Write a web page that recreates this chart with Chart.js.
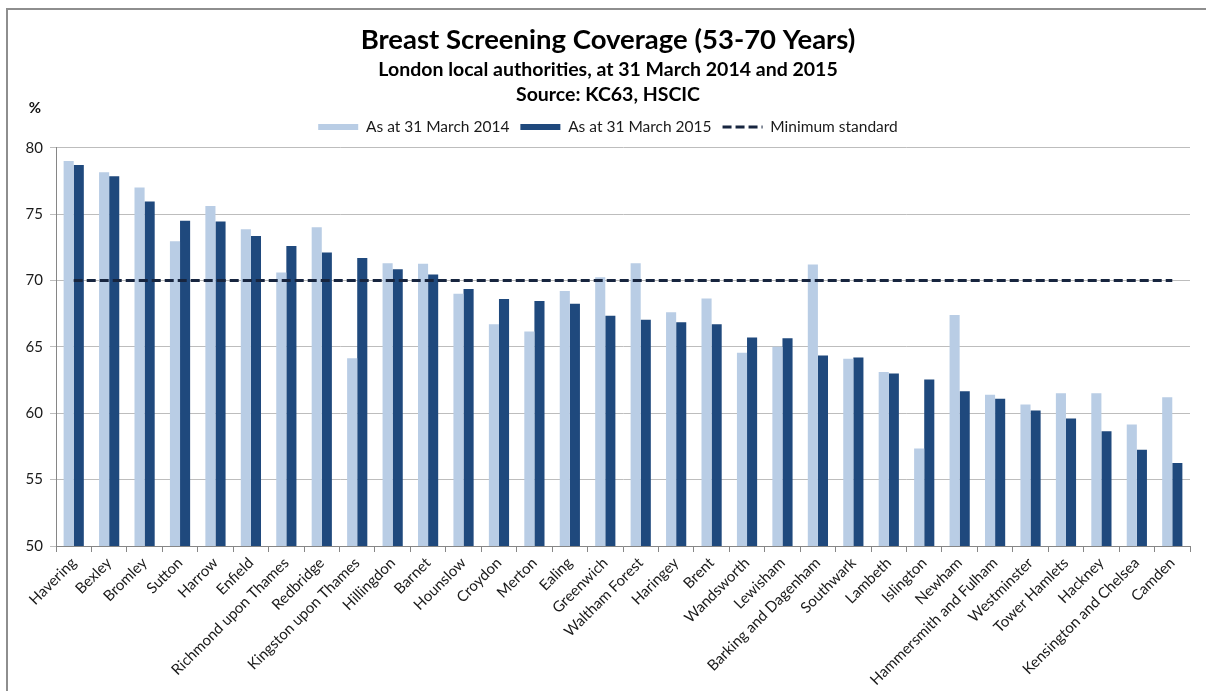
<!DOCTYPE html>
<html>
<head>
<meta charset="utf-8">
<script src="https://cdn.jsdelivr.net/npm/chart.js@4/dist/chart.umd.min.js"></script>
<style>
  html, body { margin: 0; padding: 0; background: #ffffff; }
  #wrap { position: relative; width: 1206px; height: 691px; }
</style>
</head>
<body>
<div id="wrap"><canvas id="c" width="1206" height="691"></canvas></div>
<script>
const categories = ["Havering","Bexley","Bromley","Sutton","Harrow","Enfield","Richmond upon Thames","Redbridge","Kingston upon Thames","Hillingdon","Barnet","Hounslow","Croydon","Merton","Ealing","Greenwich","Waltham Forest","Haringey","Brent","Wandsworth","Lewisham","Barking and Dagenham","Southwark","Lambeth","Islington","Newham","Hammersmith and Fulham","Westminster","Tower Hamlets","Hackney","Kensington and Chelsea","Camden"];
const values2014 = [79.0,78.15,77.0,72.95,75.6,73.85,70.6,74.0,64.15,71.3,71.25,69.0,66.7,66.15,69.2,70.25,71.3,67.6,68.65,64.55,65.0,71.2,64.1,63.1,57.35,67.4,61.4,60.65,61.5,61.5,59.15,61.2];
const values2015 = [78.7,77.85,75.95,74.5,74.45,73.35,72.6,72.1,71.7,70.85,70.45,69.35,68.6,68.45,68.25,67.35,67.05,66.85,66.7,65.7,65.65,64.35,64.2,63.0,62.55,61.65,61.1,60.2,59.6,58.65,57.25,56.25];
const minimumStandard = [70,70,70,70,70,70,70,70,70,70,70,70,70,70,70,70,70,70,70,70,70,70,70,70,70,70,70,70,70,70,70,70];
const seriesNames = ["As at 31 March 2014","As at 31 March 2015","Minimum standard"];
const titleText = "Breast Screening Coverage (53-70 Years)";
const subtitleLines = ["London local authorities, at 31 March 2014 and 2015","Source: KC63, HSCIC"];
const yUnit = "%";
const yMin = 50, yMax = 80, yStep = 5;

const FONT = "Lato, 'Open Sans', sans-serif";

const framePlugin = {
  id: 'frame',
  beforeDraw(chart) {
    const ctx = chart.ctx;
    ctx.save();
    ctx.fillStyle = '#ffffff';
    ctx.fillRect(0, 0, chart.width, chart.height);
    ctx.strokeStyle = '#8e8e8e';
    ctx.lineWidth = 2;
    ctx.beginPath();
    ctx.moveTo(7, chart.height);
    ctx.lineTo(7, 9);
    ctx.lineTo(chart.width, 9);
    ctx.stroke();
    ctx.restore();
  },
  afterDraw(chart) {
    const ctx = chart.ctx;
    ctx.save();
    ctx.fillStyle = '#111111';
    ctx.font = "bold 15px " + FONT;
    ctx.textAlign = 'center';
    ctx.textBaseline = 'middle';
    ctx.fillText(yUnit, 35, 108);
    ctx.restore();
  }
};

new Chart(document.getElementById('c'), {
  data: {
    labels: categories,
    datasets: [
      { type: 'bar', label: seriesNames[0], data: values2014, backgroundColor: '#b9cde5', borderWidth: 0, order: 1,
        categoryPercentage: 0.57, barPercentage: 1.0 },
      { type: 'bar', label: seriesNames[1], data: values2015, backgroundColor: '#1f497d', borderWidth: 0, order: 1,
        categoryPercentage: 0.57, barPercentage: 1.0 },
      { type: 'line', label: seriesNames[2], data: minimumStandard, borderColor: '#17253f', backgroundColor: '#17253f',
        borderWidth: 3, borderDash: [9, 4], pointRadius: 0, fill: false, order: 0 }
    ]
  },
  options: {
    responsive: false,
    animation: false,
    devicePixelRatio: 1,
    layout: { padding: { left: 10, right: 0, top: 0, bottom: 0 } },
    plugins: {
      tooltip: { enabled: false },
      title: {
        display: true, text: titleText, color: '#000000',
        font: { family: FONT, size: 27.5, weight: 'bold', lineHeight: 1.2 },
        padding: { top: 24, bottom: 0 }
      },
      subtitle: {
        display: true, text: subtitleLines, color: '#000000',
        font: { family: FONT, size: 19.5, weight: 'bold', lineHeight: 1.3 },
        padding: { top: 0, bottom: 0.5 }
      },
      legend: {
        display: true, position: 'top',
        labels: {
          color: '#1a1a1a',
          font: { family: FONT, size: 15.5 },
          usePointStyle: true,
          pointStyleWidth: 40,
          boxHeight: 6,
          padding: 11,
          sort: (a, b) => a.datasetIndex - b.datasetIndex,
          generateLabels(chart) {
            const items = Chart.defaults.plugins.legend.labels.generateLabels(chart);
            items.forEach(it => {
              const ds = chart.data.datasets[it.datasetIndex];
              if (ds.type === 'line') {
                it.pointStyle = 'line';
                it.lineDash = ds.borderDash;
                it.lineWidth = ds.borderWidth;
                it.strokeStyle = ds.borderColor;
              } else {
                it.pointStyle = 'rect';
                it.lineWidth = 0;
              }
            });
            return items;
          }
        }
      }
    },
    scales: {
      x: {
        offset: true,
        grid: { display: true, offset: true, drawOnChartArea: false, drawTicks: true, tickLength: 6, color: '#868686' },
        border: { display: true, color: '#868686', width: 1 },
        ticks: { autoSkip: false, maxRotation: 45, minRotation: 45, color: '#1a1a1a', padding: 2,
                 font: { family: FONT, size: 15 } },
        afterFit(scale) { scale.height = 145; }
      },
      xTopSpacer: {
        position: 'top', type: 'category', display: true,
        grid: { display: false }, border: { display: false }, ticks: { display: false },
        afterFit(scale) { scale.height = 3; }
      },
      y: {
        min: yMin, max: yMax,
        ticks: { stepSize: yStep, color: '#1a1a1a', padding: 7, font: { family: FONT, size: 15 } },
        grid: { color: '#bdbdbd', lineWidth: 1, drawTicks: true, tickLength: 6 },
        border: { display: true, color: '#868686', width: 1 },
        afterFit(scale) { scale.width = 46; }
      },
      yRightSpacer: {
        position: 'right', type: 'linear', display: true,
        grid: { display: false }, border: { display: false }, ticks: { display: false },
        afterFit(scale) { scale.width = 16; }
      }
    }
  },
  plugins: [framePlugin]
});
</script>
</body>
</html>
